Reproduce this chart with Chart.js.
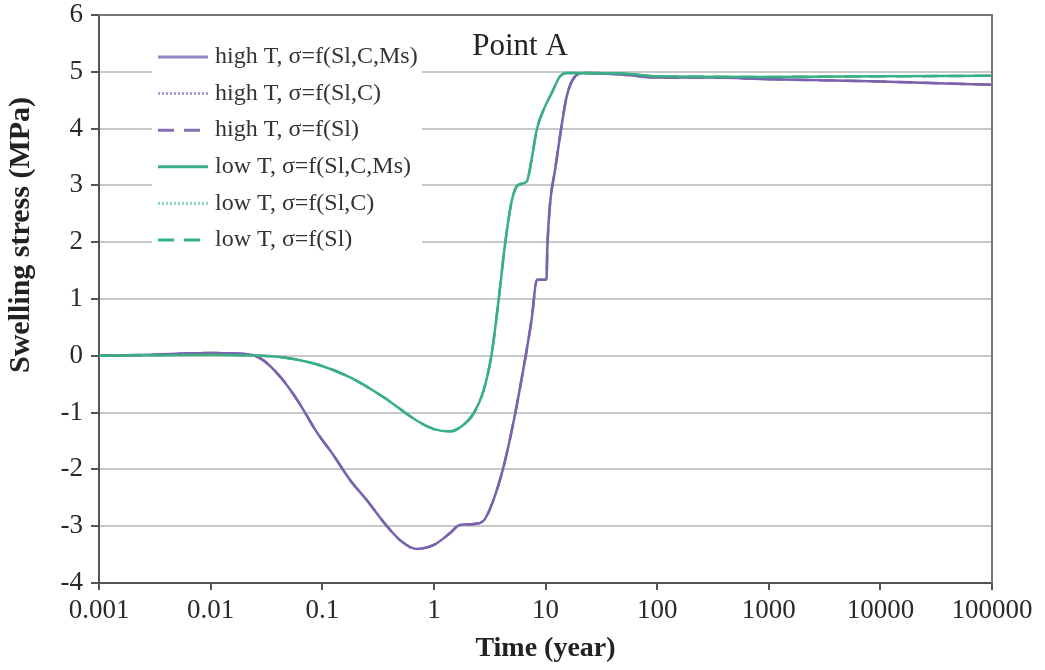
<!DOCTYPE html>
<html lang="en">
<head>
    <meta charset="UTF-8">
    <title>Point A - swelling stress</title>
    <script src="https://cdn.jsdelivr.net/npm/chart.js"></script>
    <style>
        body { margin: 0; background: #fff; }
        #wrap { width: 1045px; height: 670px; }
    </style>
</head>
<body>
    <div id="wrap">
        <canvas id="myChart" width="1045" height="670"></canvas>
    </div>

    <script>
        // values
        const xTickValues = [0.001, 0.01, 0.1, 1, 10, 100, 1000, 10000, 100000]
        const xTickLabels = ['0.001', '0.01', '0.1', '1', '10', '100', '1000', '10000', '100000']

        const highTTime   = [0.001, 0.003, 0.006, 0.01, 0.017, 0.025, 0.032, 0.045, 0.063, 0.089, 0.126, 0.178, 0.25, 0.355, 0.5, 0.7, 1.0, 1.4, 1.7, 2.3, 2.8, 3.4, 4.2, 5.2, 6.3, 7.5, 8.4, 10.2, 10.4, 11, 12.2, 13.5, 15.5, 18.4, 22, 50, 100, 300, 1000, 10000, 100000]
        const highTStress = [0, 0.02, 0.04, 0.05, 0.04, 0.0, -0.13, -0.44, -0.85, -1.34, -1.75, -2.19, -2.54, -2.93, -3.25, -3.40, -3.33, -3.12, -2.98, -2.96, -2.90, -2.55, -1.96, -1.14, -0.26, 0.63, 1.34, 1.34, 1.93, 2.69, 3.28, 3.87, 4.57, 4.92, 4.98, 4.95, 4.90, 4.90, 4.87, 4.83, 4.77]

        const lowTTime   = [0.001, 0.01, 0.02, 0.045, 0.089, 0.178, 0.355, 0.7, 1.0, 1.4, 1.8, 2.26, 2.78, 3.3, 3.8, 4.35, 5.0, 5.7, 6.8, 7.5, 8.35, 9.6, 11.4, 13.5, 15.5, 50, 100, 1000, 10000, 100000]
        const lowTStress = [0, 0.02, 0.01, -0.03, -0.15, -0.38, -0.73, -1.14, -1.29, -1.33, -1.23, -1.02, -0.62, 0.04, 0.98, 1.98, 2.74, 3.01, 3.07, 3.45, 3.98, 4.33, 4.63, 4.92, 4.98, 4.97, 4.92, 4.91, 4.92, 4.93]

        const purple = '#7a62ad'
        const green = '#3aaf85'

        const pts = (xs, ys) => xs.map((x, i) => ({ x: x, y: ys[i] }))
        const highT = pts(highTTime, highTStress)
        const lowT = pts(lowTTime, lowTStress)

        const lineSet = (label, data, color, dash, width, legendColor) => ({
            label: label,
            data: data,
            borderColor: color,
            borderWidth: width,
            borderDash: dash,
            pointRadius: 0,
            fill: false,
            cubicInterpolationMode: 'monotone',
            legendColor: legendColor
        })

        // legend box inside the plot, "Point A", y title and the top/right frame
        const extras = {
            id: 'extras',
            afterDatasetsDraw(chart) {
                const ctx = chart.ctx
                const a = chart.chartArea
                ctx.save()
                ctx.strokeStyle = '#777'
                ctx.lineWidth = 2
                ctx.beginPath()
                ctx.moveTo(a.left, a.top)
                ctx.lineTo(a.right, a.top)
                ctx.lineTo(a.right, a.bottom)
                ctx.stroke()

                ctx.fillStyle = '#fff'
                ctx.fillRect(152, 37, 270, 220)

                ctx.font = '24px "Liberation Serif"'
                ctx.textBaseline = 'middle'
                ctx.textAlign = 'left'
                const order = [1, 3, 5, 0, 2, 4]
                order.forEach((di, row) => {
                    const ds = chart.data.datasets[di]
                    const y = 57 + row * 36.6
                    ctx.strokeStyle = ds.legendColor
                    ctx.lineWidth = 3
                    ctx.setLineDash(ds.borderDash || [])
                    ctx.beginPath()
                    ctx.moveTo(158, y)
                    ctx.lineTo(ds.borderDash && ds.borderDash[0] > 5 ? 200 : 208, y)
                    ctx.stroke()
                    ctx.setLineDash([])
                    ctx.fillStyle = '#333'
                    ctx.fillText(ds.label, 215, y)
                })

                ctx.font = '31px "Liberation Serif"'
                ctx.textAlign = 'center'
                ctx.fillStyle = '#222'
                ctx.fillText('Point A', 520, 47)

                ctx.translate(21, 235)
                ctx.rotate(-Math.PI / 2)
                ctx.font = 'bold 30px "Liberation Serif"'
                ctx.fillText('Swelling stress (MPa)', 0, 0)
                ctx.restore()
            }
        }

        const ctx = document.getElementById('myChart').getContext('2d')
        const myChart = new Chart(ctx, {
            type: 'line',
            data: {
                datasets: [
                    lineSet('low T, σ=f(Sl,C,Ms)', lowT, green, [], 2.5, green),
                    lineSet('high T, σ=f(Sl,C,Ms)', highT, purple, [], 2.5, '#9585c2'),
                    lineSet('low T, σ=f(Sl,C)', lowT, '#8fd6c0', [2, 2], 1.5, '#8fd6c0'),
                    lineSet('high T, σ=f(Sl,C)', highT, '#a8a0d8', [2, 2], 1.5, '#a8a0d8'),
                    lineSet('low T, σ=f(Sl)', lowT, green, [16, 10], 2.5, green),
                    lineSet('high T, σ=f(Sl)', highT, purple, [16, 10], 2.5, '#8670b5')
                ]
            },
            options: {
                responsive: false,
                animation: false,
                layout: { padding: { top: 15, right: 53, left: 0, bottom: 0 } },
                plugins: {
                    legend: { display: false },
                    tooltip: { enabled: false }
                },
                scales: {
                    x: {
                        type: 'logarithmic',
                        min: 0.001,
                        max: 100000,
                        afterBuildTicks: (s) => { s.ticks = xTickValues.map(v => ({ value: v })) },
                        afterFit: (s) => {
                            s.height = 87
                            s.paddingLeft = 0
                            s.paddingRight = 0
                        },
                        ticks: {
                            autoSkip: false,
                            maxRotation: 0,
                            padding: 5,
                            color: '#2a2a2a',
                            font: { family: 'Liberation Serif', size: 27 },
                            callback: (v, i) => xTickLabels[i]
                        },
                        grid: { drawOnChartArea: false, tickLength: 7, tickColor: '#555', lineWidth: 2 },
                        border: { color: '#555', width: 2 },
                        title: {
                            display: true,
                            text: 'Time (year)',
                            color: '#222',
                            font: { family: 'Liberation Serif', size: 28, weight: 'bold' },
                            padding: { top: 0 }
                        }
                    },
                    y: {
                        min: -4,
                        max: 6,
                        afterFit: (s) => {
                            s.width = 99
                            s.paddingTop = 0
                            s.paddingBottom = 0
                        },
                        ticks: {
                            stepSize: 1,
                            padding: 8,
                            color: '#2a2a2a',
                            font: { family: 'Liberation Serif', size: 27 }
                        },
                        grid: { color: '#c8c8c8', lineWidth: 2, tickColor: '#555', tickLength: 8 },
                        border: { color: '#555', width: 2 }
                    }
                }
            },
            plugins: [extras]
        })
    </script>
</body>
</html>
